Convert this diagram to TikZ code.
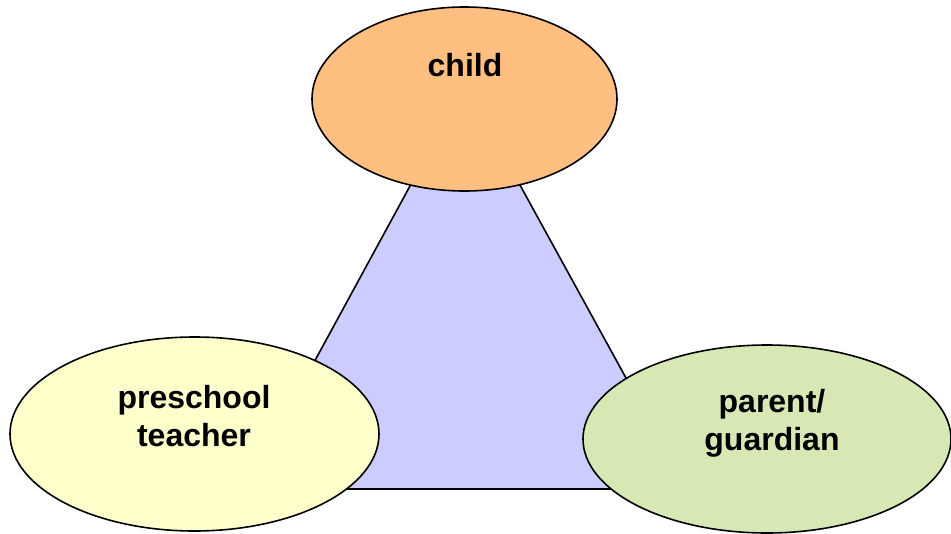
\documentclass[tikz,border=0pt]{standalone}
\usepackage{fontspec}
\setmainfont{Liberation Sans}
\usepackage{tikz}
\usetikzlibrary{shapes.geometric}
\definecolor{tri_blue}{RGB}{204, 204, 255}
\definecolor{el_orange}{RGB}{255, 191, 128}
\definecolor{el_yellow}{RGB}{255, 255, 204}
\definecolor{el_green}{RGB}{216, 232, 181}
\tikzstyle{el}=[ellipse,draw=black,line width=1.2pt,inner sep=0pt]
\tikzstyle{txt}=[align=center,inner sep=0pt,
  font=\fontsize{24}{28.5}\selectfont\bfseries]
\tikzstyle{tri}=[fill=tri_blue,draw=black,line width=1.2pt,line join=miter]

\begin{document}
\begin{tikzpicture}[x=0.75pt,y=-0.75pt]
		\useasboundingbox (0, 0) rectangle (951, 533);
		\coordinate (0) at (465, 85);
		\coordinate (1) at (245, 489);
		\coordinate (2) at (687, 489);
		\draw [style=tri] (0) -- (1) -- (2) -- cycle;
		\node [style=el, fill=el_orange, minimum width=228.75pt, minimum height=138pt] (3) at (464.5, 99) {};
		\node [style=el, fill=el_yellow, minimum width=276.75pt, minimum height=145.5pt] (4) at (194.5, 434) {};
		\node [style=el, fill=el_green, minimum width=276pt, minimum height=141pt] (5) at (767, 439) {};
		\node [style=txt] (6) at (465, 65) {child};
		\node [style=txt] (7) at (194, 416) {preschool\\teacher};
		\node [style=txt] (8) at (772, 423) {parent/\\guardian};
\end{tikzpicture}
\end{document}
